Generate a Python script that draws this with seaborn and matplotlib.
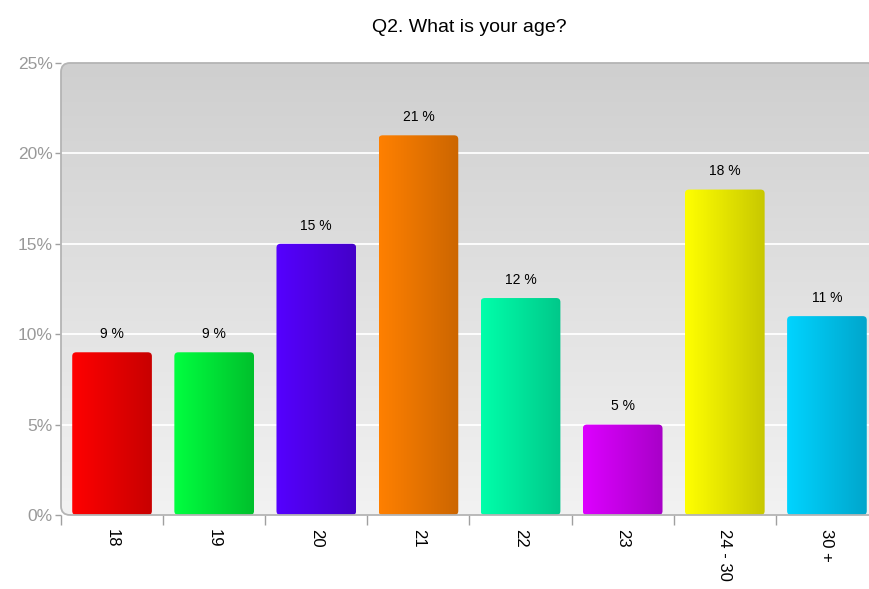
import numpy as np
import pandas as pd
import matplotlib
matplotlib.use('Agg')
import matplotlib.pyplot as plt
import seaborn as sns
from matplotlib.patches import FancyBboxPatch
from matplotlib.colors import LinearSegmentedColormap


ages = ['18', '19', '20', '21', '22', '23', '24 - 30', '30 +']
percent = [9, 9, 15, 21, 12, 5, 18, 11]
light = ['#ff0000', '#00ff40', '#5500ff', '#ff8000', '#00ffaa', '#dd00ff', '#ffff00', '#00d4ff']
dark = ['#c80000', '#00c02c', '#4400c8', '#cc6600', '#00c88a', '#a800c8', '#c8c800', '#00a6cc']

sns.set_theme(style='white')
plt.rcParams['font.family'] = ['Liberation Sans', 'DejaVu Sans']

df = pd.DataFrame({'age': ages, 'percent': percent})

fig = plt.figure(figsize=(8.7, 5.89), dpi=100)
ax = fig.add_axes([61 / 870, 1 - 515 / 589, 817 / 870, 452 / 589])

sns.barplot(data=df, x='age', y='percent', width=0.78, color='white', ax=ax, zorder=3)

ax.set_xlim(-0.5, 7.5)
ax.set_ylim(0, 25)

# background: grey gradient, rounded frame
frame = FancyBboxPatch((0, 0), 1, 1, boxstyle='round,pad=0,rounding_size=0.011',
                       mutation_aspect=1.8, transform=ax.transAxes,
                       facecolor='none', edgecolor='#b4b4b4', lw=1.3, zorder=5, clip_on=False)
ax.add_patch(frame)
bg = LinearSegmentedColormap.from_list('bg', ['#f2f2f2', '#cfcfcf'])
grad = np.linspace(0, 1, 256).reshape(-1, 1)
im = ax.imshow(grad, cmap=bg, origin='lower', aspect='auto',
               extent=[0, 1, 0, 1], transform=ax.transAxes, zorder=0)
im.set_clip_path(frame)
for s in ax.spines.values():
    s.set_visible(False)

# white grid lines
for y in [5, 10, 15, 20]:
    ax.axhline(y, color='white', lw=1.3, zorder=1)

# bar gradients with rounded tops
for i, bar in enumerate(ax.patches[:len(ages)]):
    x0, w, h = bar.get_x(), bar.get_width(), bar.get_height()
    bar.set_visible(False)
    rb = FancyBboxPatch((x0, 0), w, h, boxstyle='round,pad=0,rounding_size=0.04',
                        mutation_aspect=5.5, facecolor='none', edgecolor='none', zorder=3)
    ax.add_patch(rb)
    cm = LinearSegmentedColormap.from_list('c%d' % i, [light[i], dark[i]])
    g = ax.imshow(np.linspace(0, 1, 128).reshape(1, -1), cmap=cm, aspect='auto',
                  extent=[x0, x0 + w, 0, h], zorder=3)
    g.set_clip_path(rb)
    ax.annotate('%d %%' % percent[i], (i, h), xytext=(0, 8), textcoords='offset points',
                ha='center', va='bottom', fontsize=10, color='black', zorder=6)

ax.set_xlim(-0.5, 7.5)
ax.set_ylim(0, 25)

ax.set_yticks([0, 5, 10, 15, 20, 25])
ax.set_yticklabels(['0%', '5%', '10%', '15%', '20%', '25%'])
ax.tick_params(axis='y', left=True, length=4, width=1, color='#a0a0a0',
               labelcolor='#999999', labelsize=12.5, pad=2)
ax.set_xticks(range(len(ages)))
ax.set_xticklabels(ages, rotation=-90)
ax.tick_params(axis='x', bottom=False, length=0, labelsize=12, labelcolor='black', pad=10)
ax.set_xticks(np.arange(-0.5, 7.5, 1), minor=True)
ax.tick_params(axis='x', which='minor', bottom=True, length=7, width=1, color='#a0a0a0')
for lab in ax.get_xticklabels():
    lab.set_verticalalignment('top')
ax.set_xlabel('')
ax.set_ylabel('')

fig.text(469 / 870, 1 - 27 / 589, 'Q2. What is your age?', ha='center', va='center',
         fontsize=14, color='black')

fig.savefig('out.png', dpi=100, facecolor='white')
